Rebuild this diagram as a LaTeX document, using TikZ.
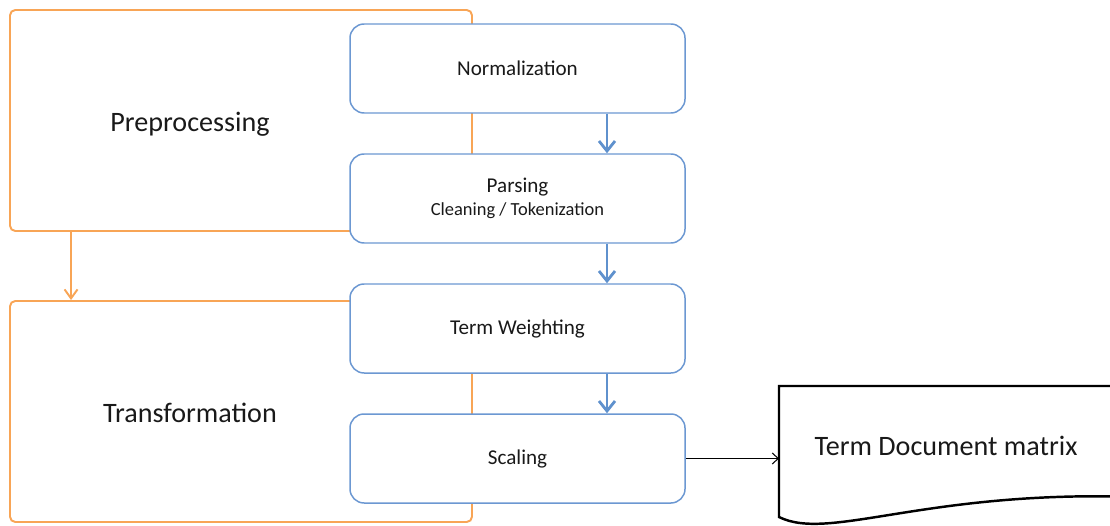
\documentclass[tikz,border=0pt]{standalone}
\usepackage{fontspec}
\setmainfont{Carlito}
\definecolor{phaseorange}{RGB}{248, 165, 86}
\definecolor{stepblue}{RGB}{108, 152, 210}
\definecolor{arrowblue}{RGB}{95, 145, 205}
\usepackage{tikz}
\usetikzlibrary{arrows.meta, positioning, calc}

\begin{document}
\begin{tikzpicture}[
  phasebox/.style={draw=phaseorange, line width=1.1pt, rounded corners=3pt, minimum width=9.24cm, minimum height=4.42cm, inner sep=0pt},
  phaselabel/.style={font=\fontsize{16}{19}\selectfont, text=black!90},
  procbox/.style={draw=stepblue, line width=0.85pt, fill=white, rounded corners=8pt, minimum width=6.7cm, minimum height=1.78cm, align=center, font=\fontsize{12}{14}\selectfont, text=black!90},
  flowarrow/.style={draw=arrowblue, line width=1.6pt, -{Straight Barb[length=2mm, width=3.2mm]}}
]
  \clip (0,0) rectangle (22.2,10.5);

  % phases
  \node[phasebox] (prep) at (4.82, 8.09) {};
  \node[phasebox] (trans) at (4.82, 2.27) {};
  \node[phaselabel] (preplabel) at (3.8, 8.02) {Preprocessing};
  \node[phaselabel] (translabel) at (3.8, 2.24) {Transformation};
  \draw[phaseorange, line width=1.1pt, -{Straight Barb[length=1.8mm, width=2.6mm]}]
    ([xshift=1.24cm]prep.south west) -- ([xshift=1.24cm]trans.north west);

  % steps
  \node[procbox] (norm) at (10.35, 9.13) {Normalization};
  \node[procbox] (pars) at (10.35, 6.53) {Parsing\\[-1pt]{\fontsize{10.5}{12}\selectfont Cleaning / Tokenization}};
  \node[procbox] (weight) at (10.35, 3.93) {Term Weighting};
  \node[procbox] (scal) at (10.35, 1.33) {Scaling};

  \draw[flowarrow] ([xshift=1.79cm]norm.south) -- ([xshift=1.79cm]pars.north);
  \draw[flowarrow] ([xshift=1.79cm]pars.south) -- ([xshift=1.79cm]weight.north);
  \draw[flowarrow] ([xshift=1.79cm]weight.south) -- ([xshift=1.79cm]scal.north);

  % output document
  \draw[black, line width=1.4pt] (23, 2.78) -- (15.58, 2.78) -- (15.58, 0.16)
    .. controls (16.6, -0.35) and (18.6, 0.75) .. (23, 0.55);
  \coordinate (docin) at (15.58, 1.33);
  \node[font=\fontsize{16}{19}\selectfont, text=black!90] (tdm) at (18.92, 1.58) {Term Document matrix};
  \draw[black, line width=0.6pt, -{Straight Barb[length=1.2mm, width=2.2mm]}] (scal.east) -- (docin);
\end{tikzpicture}
\end{document}
